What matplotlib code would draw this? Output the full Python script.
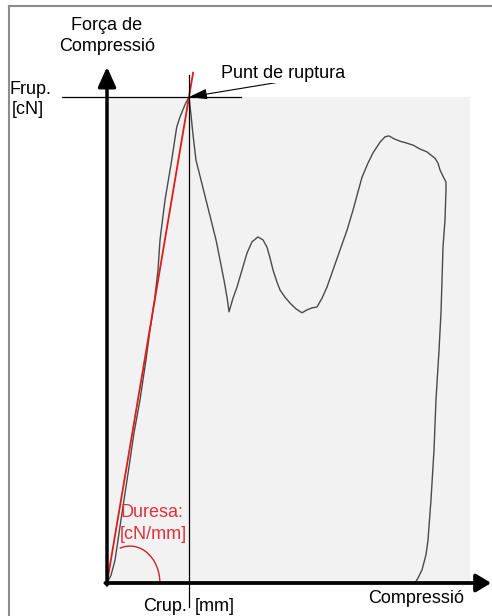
import matplotlib
matplotlib.use("Agg")
import matplotlib.pyplot as plt
from matplotlib.patches import FancyArrowPatch, Rectangle, Arc
from matplotlib.lines import Line2D

plt.rcParams['font.family'] = ['Liberation Sans', 'DejaVu Sans']

# break point and values (mm, cN)
crup_mm = 2.0
frup_cN = 100.0

curve_x_mm = [0.000, 0.098, 0.195, 0.268, 0.341, 0.415, 0.537, 0.659, 0.805, 0.951,
              1.049, 1.159, 1.244, 1.293, 1.415, 1.578, 1.700, 1.780, 1.902, 2.000,
              2.049, 2.098, 2.171, 2.293, 2.415, 2.537, 2.659, 2.756, 2.854, 2.927,
              2.976, 3.073, 3.171, 3.293, 3.415, 3.537, 3.683, 3.805, 3.902, 3.976,
              4.049, 4.146, 4.220, 4.341, 4.463, 4.610, 4.756, 4.878, 5.000, 5.122,
              5.244, 5.366, 5.512, 5.683, 5.854, 6.000, 6.122, 6.220, 6.366, 6.488,
              6.659, 6.780, 6.878, 7.000, 7.146, 7.317, 7.463, 7.634, 7.805, 8.000,
              8.073, 8.122, 8.195, 8.268, 8.268, 8.244, 8.195, 8.171, 8.146, 8.098,
              8.024, 7.976, 7.902, 7.829, 7.780, 7.683, 7.585, 7.512]
curve_f_cN = [0.0, 1.6, 4.7, 8.8, 13.0, 17.1, 23.9, 30.9, 37.7, 45.9,
              52.1, 58.2, 64.4, 70.6, 78.8, 87.0, 93.8, 95.9, 98.4, 100.0,
              96.3, 92.2, 87.0, 82.9, 78.8, 74.7, 70.6, 66.5, 62.3, 58.8,
              55.8, 58.6, 60.9, 64.4, 67.9, 70.2, 71.2, 70.6, 69.1, 66.9,
              64.4, 61.9, 60.3, 58.8, 57.6, 56.4, 55.6, 56.2, 56.6, 56.8,
              58.6, 60.9, 64.4, 68.5, 72.6, 76.7, 80.5, 83.5, 86.4, 88.5,
              90.7, 91.8, 92.0, 91.4, 90.9, 90.5, 90.1, 89.3, 88.7, 87.4,
              86.4, 85.0, 83.7, 82.5, 80.9, 74.7, 69.1, 62.3, 55.6, 47.9,
              37.7, 27.4, 17.1, 8.8, 5.8, 2.7, 1.0, 0.0]

# extents of the sketch
x_axis_end = 9.37
y_axis_end = 106.2
paper_width = 8.85
tangent_end_x = 2.1
guide_x_span = (-1.10, 3.27)
guide_y_span = (-4.9, 104.5)
pointer_start = (4.585, 103.6)

fig = plt.figure(figsize=(4.92, 6.16), dpi=100)
ax = fig.add_axes([0, 0, 1, 1])
ax.set_xlim(-107 / 41, 385 / 41)
ax.set_ylim(-33 / 4.86, 583 / 4.86)
ax.axis('off')

# outer frame (cropped on the right and bottom)
fy = 1 - 6 / 616
fx = 9 / 492
fig.add_artist(Line2D([fx, fx], [0, fy], transform=fig.transFigure, color='#8c8c8c', lw=1.5))
fig.add_artist(Line2D([fx, 1], [fy, fy], transform=fig.transFigure, color='#8c8c8c', lw=1.5))

# scanned paper background
ax.add_patch(Rectangle((0, 0), paper_width, frup_cN, facecolor='#f2f2f2', edgecolor='none', zorder=0))

# measured curve
ax.plot(curve_x_mm, curve_f_cN, color='#4a4a4a', lw=1.0, zorder=2)

# tangent (hardness) line and its angle mark
ax.plot([0, tangent_end_x], [0, frup_cN / crup_mm * tangent_end_x], color='#dd1c1c', lw=1.3, zorder=3)
ax.add_patch(Arc((0.56, 0), 1.46, 15.2, theta1=0, theta2=92, color='#c8242c', lw=1.0, zorder=3))

# guide lines through the break point
ax.plot([crup_mm, crup_mm], guide_y_span, color='black', lw=0.9, zorder=4)
ax.plot(guide_x_span, [frup_cN, frup_cN], color='black', lw=0.9, zorder=4)

# axes with arrow heads
ax.add_patch(FancyArrowPatch((0, -0.4), (0, y_axis_end), arrowstyle='-|>,head_length=12,head_width=5.4',
                             color='black', lw=2.5, shrinkA=0, shrinkB=0, zorder=5))
ax.add_patch(FancyArrowPatch((-0.04, 0), (x_axis_end, 0), arrowstyle='-|>,head_length=9,head_width=5.4',
                             color='black', lw=2.7, shrinkA=0, shrinkB=0, zorder=5))

# arrow to the break point
ax.add_patch(FancyArrowPatch(pointer_start, (crup_mm, frup_cN), arrowstyle='-|>,head_length=11,head_width=3.2',
                             color='black', lw=0.8, shrinkA=0, shrinkB=0, zorder=6))

fs = 13
ax.text(0, 113.7, 'Força de', ha='center', va='baseline', fontsize=fs)
ax.text(0, 109.5, 'Compressió', ha='center', va='baseline', fontsize=fs)
ax.text(-2.37, 100.6, 'Frup.', ha='left', va='baseline', fontsize=fs)
ax.text(-2.33, 96.6, '[cN]', ha='left', va='baseline', fontsize=fs)
ax.text(4.29, 103.9, 'Punt de ruptura', ha='center', va='baseline', fontsize=fs, zorder=7,
        bbox=dict(facecolor='white', edgecolor='none', pad=0.5))
ax.text(0.34, 13.6, 'Duresa:', ha='left', va='baseline', fontsize=fs, color='#e0303a')
ax.text(0.30, 9.0, '[cN/mm]', ha='left', va='baseline', fontsize=fs, color='#e0303a')
ax.text(0.88, -5.8, 'Crup.', ha='left', va='baseline', fontsize=fs)
ax.text(2.13, -5.8, '[mm]', ha='left', va='baseline', fontsize=fs)
ax.text(6.37, -4.1, 'Compressió', ha='left', va='baseline', fontsize=fs)

fig.savefig('out.png', dpi=100)
